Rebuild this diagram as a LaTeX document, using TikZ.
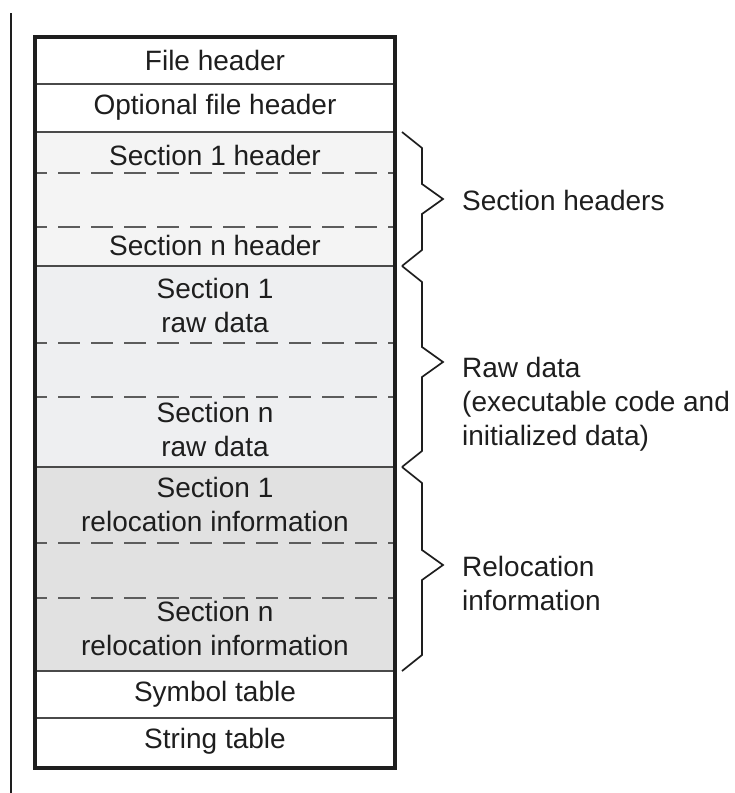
\documentclass[tikz,border=0pt]{standalone}
\usepackage{fontspec}
\setmainfont{Liberation Sans}
\usetikzlibrary{positioning}
\definecolor{ink}{HTML}{1E1E1E}
\definecolor{rulegray}{HTML}{4A4A4A}
\definecolor{hdrfill}{HTML}{F4F4F4}
\definecolor{rawfill}{HTML}{EEEFF1}
\definecolor{relfill}{HTML}{E1E1E1}
\tikzset{
  lbl/.style={font=\fontsize{28}{34}\selectfont,text=ink,align=center,inner sep=0pt},
  side/.style={font=\fontsize{28}{34}\selectfont,text=ink,align=left,inner sep=0pt,anchor=west},
  frame/.style={draw=ink,line width=3.2pt},
  divl/.style={draw=rulegray,line width=1.8pt},
  dashl/.style={draw=rulegray!90,line width=1.8pt,dash pattern=on 22pt off 11pt,dash phase=12pt},
  brc/.style={draw=ink,line width=1.7pt,line join=miter},
}

\begin{document}
\begin{tikzpicture}[x=1pt,y=-1pt]
\useasboundingbox (0,0) rectangle (735,793);
% shaded bands
\fill[hdrfill] (35,132) rectangle (395,266);
\fill[rawfill] (35,266) rectangle (395,467);
\fill[relfill] (35,467) rectangle (395,671);
% row dividers
\foreach \y in {84,132,266,467,671,718} \draw[divl] (35,\y) -- (395,\y);
\foreach \y in {173,227,343,397,543,598} \draw[dashl] (37,\y) -- (393,\y);
\draw[frame] (35,37) rectangle (395,768);
\draw[draw=ink,line width=1.7pt] (11,13) -- (11,793);
% rows
\node[lbl] (fh) at (215,60) {File header};
\node[lbl] (ofh) at (215,107) {Optional file header};
\node[lbl] (s1h) at (215,155) {Section 1 header};
\node[lbl] (snh) at (215,245) {Section n header};
\node[lbl] (s1r) at (215,305) {Section 1\\raw data};
\node[lbl] (snr) at (215,429) {Section n\\raw data};
\node[lbl] (s1l) at (215,504) {Section 1\\relocation information};
\node[lbl] (snl) at (215,628) {Section n\\relocation information};
\node[lbl] (sym) at (215,694) {Symbol table};
\node[lbl] (str) at (215,741) {String table};
% braces
\foreach \t/\b/\m in {132/266/199,266/467/362,467/671/565}
  \draw[brc] (402,\t) -- (422,{\t+16}) -- (422,{\m-15}) -- (443,\m) -- (422,{\m+15}) -- (422,{\b-16}) -- (402,\b);
\node[side] (hdrtxt) at (462,200) {Section headers};
\node[side] (rawtxt) at (462,404) {Raw data\\(executable code and\\initialized data)};
\node[side] (reltxt) at (462,583) {Relocation\\information};
\end{tikzpicture}
\end{document}
